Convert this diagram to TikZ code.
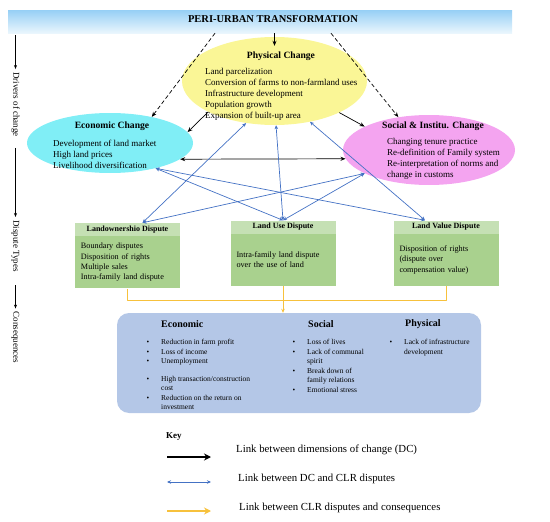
\documentclass[tikz,border=0pt]{standalone}
\usepackage{fontspec}
\setmainfont{Liberation Serif}
\usetikzlibrary{shapes.geometric,arrows.meta}
\definecolor{bantop}{RGB}{150,207,245}
\definecolor{banbot}{RGB}{234,246,253}
\definecolor{physyel}{RGB}{250,246,150}
\definecolor{econcyan}{RGB}{128,238,246}
\definecolor{socpink}{RGB}{244,164,240}
\definecolor{hdgreen}{RGB}{197,224,180}
\definecolor{bdgreen}{RGB}{169,209,142}
\definecolor{consblue}{RGB}{180,199,231}
\definecolor{lnblue}{RGB}{68,114,196}
\definecolor{lnyel}{RGB}{247,193,60}
\begin{document}
\begin{tikzpicture}[x=1pt,y=-1pt,>=Stealth,line join=round,
	ell/.style={ellipse,inner sep=0pt},
	ttl/.style={font=\fontsize{9.6}{11}\selectfont\bfseries,inner sep=0pt},
	txt/.style={font=\fontsize{9}{11}\selectfont,align=left,inner sep=0pt,anchor=north west},
	side/.style={font=\fontsize{9}{11}\selectfont,rotate=-90,inner sep=3pt},
	hd/.style={fill=hdgreen,minimum width=105pt,minimum height=13pt,inner sep=0pt,font=\fontsize{8}{10}\selectfont\bfseries},
	bd/.style={fill=bdgreen,text width=93pt,inner xsep=6pt,inner ysep=0pt,minimum height=52pt,align=left,anchor=north,font=\fontsize{8.2}{10.3}\selectfont},
	csq/.style={font=\fontsize{7.5}{9.5}\selectfont,inner sep=0pt,anchor=north west},
	chd/.style={font=\fontsize{10}{12}\selectfont\bfseries,inner sep=0pt,anchor=west},
	dc/.style={->,line width=.7pt,>={Stealth[length=5pt,width=4pt]}},
	bl/.style={<->,draw=lnblue,line width=.7pt,>={Stealth[length=4pt,width=3.5pt]}},
	yl/.style={draw=lnyel,line width=.8pt},
	key/.style={font=\fontsize{10.8}{13}\selectfont,inner sep=0pt,anchor=west}]
	\useasboundingbox (0,0) rectangle (550,522);
	% banner
	\node[top color=bantop,bottom color=banbot,minimum width=504pt,minimum height=23pt,inner sep=0pt] (banner) at (260,21.5) {};
	\node[font=\fontsize{10.5}{12}\selectfont\bfseries,inner sep=0pt] (bannerT) at (273,19) {PERI-URBAN TRANSFORMATION};
	% left column
	\coordinate (sidetop) at (15.5,35);
	\node[side] (drv) at (15.5,104.5) {Drivers of change};
	\node[side] (typ) at (15.5,246) {Dispute Types};
	\node[side] (cq) at (15.5,337.5) {Consequences};
	\draw[->,line width=.6pt,>={Stealth[length=4pt,width=3pt]}] (sidetop) -- (drv.west);
	\draw[->,line width=.6pt,>={Stealth[length=4pt,width=3pt]},shorten <=8pt] (drv.east) -- (typ.west);
	\draw[->,line width=.6pt,>={Stealth[length=4pt,width=3pt]},shorten <=10pt] (typ.east) -- (cq.west);
	% dimensions of change
	\node[ell,fill=physyel,minimum width=185pt,minimum height=88pt] (phys) at (274.5,81) {};
	\node[ell,fill=econcyan,minimum width=166pt,minimum height=60pt] (econ) at (110,143) {};
	\node[ell,fill=socpink,minimum width=172pt,minimum height=70pt] (soc) at (429,150) {};
	\node[ttl] (physT) at (281,56.5) {Physical Change};
	\node[txt] (physL) at (205,68.5) {Land parcelization\\Conversion of farms to non-farmland uses\\Infrastructure development\\Population growth\\Expansion of built-up area};
	\node[ttl] (econT) at (112,126.5) {Economic Change};
	\node[txt] (econL) at (53,139.5) {Development of land market\\High land prices\\Livelihood diversification};
	\node[ttl] (socT) at (433,126.5) {Social \& Institu. Change};
	\node[txt] (socL) at (387,138) {Changing tenure practice\\Re-definition of Family system\\Re-interpretation of norms and\\change in customs};
	\draw[dc] (banner.south -| phys.north) -- ([yshift=-9pt]phys.north);
	\draw[dc,dash pattern=on 4pt off 2.5pt] ([xshift=-45pt]banner.south) -- (econ.32);
	\draw[dc,dash pattern=on 4pt off 2.5pt] ([xshift=71pt]banner.south) -- (soc.133);
	\draw[dc] (phys.205) -- (econ.8);
	\draw[dc] (phys.-26) -- (soc.160);
	\draw[dc,<->] (econ.-13) -- (soc.186);
	% dispute types
	\node[hd] (own) at (127.5,229.5) {Landownershio Dispute};
	\node[bd] (ownB) at (own.south) {Boundary disputes\\Disposition of rights\\Multiple sales\\Intra-family land dispute};
	\node[hd] (use) at (283,227) {Land Use Dispute};
	\node[bd] (useB) at (use.south) {Intra-family land dispute\\over the use of land};
	\node[hd] (val) at (446,227) {Land Value Dispute};
	\node[bd] (valB) at (val.south) {Disposition of rights\\(dispute over\\compensation value)};
	\draw[bl] ([xshift=15pt]own.north) -- (phys.-124);
	\draw[bl] ([xshift=15pt]own.north) -- (soc.200);
	\draw[bl] (use.north) -- (phys.-88);
	\draw[bl] (use.north) -- (econ.-29);
	\draw[bl] (use.north) -- (soc.200);
	\draw[bl] ([xshift=-21pt]val.north) -- (phys.-49);
	\draw[bl] ([xshift=-21pt]val.north) -- (econ.-29);
	% consequences
	\node[fill=consblue,rounded corners=12pt,minimum width=364pt,minimum height=100pt,inner sep=0pt] (cons) at (299,363) {};
	\draw[yl] (ownB.south) -- ++(0,12) -| (valB.south);
	\draw[yl,->,>={Stealth[length=4pt,width=3.5pt]}] (useB.south) -- (useB.south |- cons.north);
	\node[chd] (consE) at (161,324) {Economic};
	\node[chd] (consS) at (308,324) {Social};
	\node[chd] (consP) at (405,324) {Physical};
	\node[csq] (consEL) at (146.5,338) {\begin{tabular}{@{}p{14.5pt}@{}l@{}}
		\textbullet & Reduction in farm profit\\
		\textbullet & Loss of income\\
		\textbullet & Unemployment\\[8pt]
		\textbullet & High transaction/construction\\
		& cost\\
		\textbullet & Reduction on the return on\\
		& investment
	\end{tabular}};
	\node[csq] (consSL) at (292.5,338) {\begin{tabular}{@{}p{14.5pt}@{}l@{}}
		\textbullet & Loss of lives\\
		\textbullet & Lack of communal\\
		& spirit\\
		\textbullet & Break down of\\
		& family relations\\
		\textbullet & Emotional stress
	\end{tabular}};
	\node[csq] (consPL) at (389.5,338) {\begin{tabular}{@{}p{14.5pt}@{}l@{}}
		\textbullet & Lack of infrastructure\\
		& development
	\end{tabular}};
	% key
	\node[font=\fontsize{9}{11}\selectfont\bfseries,inner sep=0pt,anchor=west] (keyT) at (166,437) {Key};
	\coordinate (ka1) at (167,457); \coordinate (ka2) at (211,457);
	\coordinate (kb1) at (167,482); \coordinate (kb2) at (211,482);
	\coordinate (kc1) at (167,511); \coordinate (kc2) at (211,511);
	\draw[->,line width=2pt,>={Stealth[length=7pt,width=7pt]}] (ka1) -- (ka2);
	\draw[bl,line width=1pt] (kb1) -- (kb2);
	\draw[->,draw=lnyel,line width=2.5pt,>={Stealth[length=7pt,width=7pt]}] (kc1) -- (kc2);
	\node[key] (keyA) at (236,450) {Link between dimensions of change (DC)};
	\node[key] (keyB) at (238,479) {Link between DC and CLR disputes};
	\node[key] (keyC) at (239,508) {Link between CLR disputes and consequences};
\end{tikzpicture}
\end{document}
